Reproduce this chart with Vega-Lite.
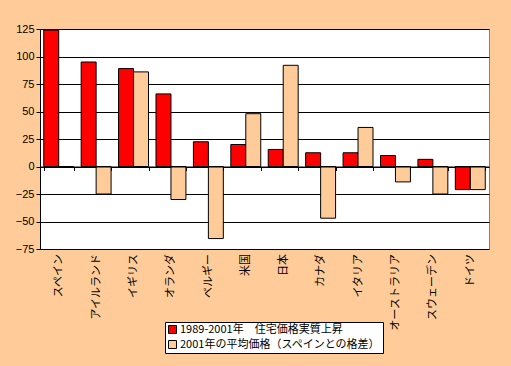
{
  "$schema": "https://vega.github.io/schema/vega-lite/v6.json",
  "width": 449,
  "height": 220,
  "autosize": "none",
  "padding": {"left": 40, "top": 29, "right": 22, "bottom": 117},
  "background": "#FFCC99",
  "config": {
    "view": {"fill": "white", "stroke": "#808080", "strokeWidth": 1},
    "font": "Liberation Sans"
  },
  "data": {
    "values": [
      {"country": "スペイン", "series": "1989-2001年　住宅価格実質上昇", "value": 124},
      {"country": "スペイン", "series": "2001年の平均価格（スペインとの格差）", "value": 0},
      {"country": "アイルランド", "series": "1989-2001年　住宅価格実質上昇", "value": 95},
      {"country": "アイルランド", "series": "2001年の平均価格（スペインとの格差）", "value": -25},
      {"country": "イギリス", "series": "1989-2001年　住宅価格実質上昇", "value": 89},
      {"country": "イギリス", "series": "2001年の平均価格（スペインとの格差）", "value": 86},
      {"country": "オランダ", "series": "1989-2001年　住宅価格実質上昇", "value": 66},
      {"country": "オランダ", "series": "2001年の平均価格（スペインとの格差）", "value": -30},
      {"country": "ベルギー", "series": "1989-2001年　住宅価格実質上昇", "value": 22.5},
      {"country": "ベルギー", "series": "2001年の平均価格（スペインとの格差）", "value": -65.5},
      {"country": "米国", "series": "1989-2001年　住宅価格実質上昇", "value": 20},
      {"country": "米国", "series": "2001年の平均価格（スペインとの格差）", "value": 48},
      {"country": "日本", "series": "1989-2001年　住宅価格実質上昇", "value": 15.5},
      {"country": "日本", "series": "2001年の平均価格（スペインとの格差）", "value": 92},
      {"country": "カナダ", "series": "1989-2001年　住宅価格実質上昇", "value": 12.5},
      {"country": "カナダ", "series": "2001年の平均価格（スペインとの格差）", "value": -47},
      {"country": "イタリア", "series": "1989-2001年　住宅価格実質上昇", "value": 12.5},
      {"country": "イタリア", "series": "2001年の平均価格（スペインとの格差）", "value": 35.5},
      {"country": "オーストラリア", "series": "1989-2001年　住宅価格実質上昇", "value": 10},
      {"country": "オーストラリア", "series": "2001年の平均価格（スペインとの格差）", "value": -14},
      {"country": "スウェーデン", "series": "1989-2001年　住宅価格実質上昇", "value": 6.5},
      {"country": "スウェーデン", "series": "2001年の平均価格（スペインとの格差）", "value": -25},
      {"country": "ドイツ", "series": "1989-2001年　住宅価格実質上昇", "value": -21},
      {"country": "ドイツ", "series": "2001年の平均価格（スペインとの格差）", "value": -21}
    ]
  },
  "mark": {"type": "bar", "stroke": "black", "strokeWidth": 1},
  "encoding": {
    "x": {
      "field": "country",
      "type": "nominal",
      "sort": null,
      "title": null,
      "scale": {"paddingInner": 0.2, "paddingOuter": 0.1},
      "axis": {
        "offset": -82.5,
        "domainColor": "black",
        "tickColor": "black",
        "tickSize": 4,
        "tickBand": "extent",
        "labelAngle": -90,
        "labelPadding": 83,
        "labelFont": "Noto Sans CJK JP",
        "labelFontSize": 11,
        "labelColor": "black",
        "grid": false,
        "zindex": 1
      }
    },
    "xOffset": {
      "field": "series",
      "type": "nominal",
      "sort": null,
      "scale": {"paddingInner": 0, "paddingOuter": 0}
    },
    "y": {
      "field": "value",
      "type": "quantitative",
      "title": null,
      "scale": {"domain": [-75, 125], "nice": false},
      "axis": {
        "values": [-75, -50, -25, 0, 25, 50, 75, 100, 125],
        "grid": true,
        "gridColor": "black",
        "gridOpacity": 1,
        "domainColor": "black",
        "tickColor": "black",
        "tickSize": 4,
        "labelPadding": 2,
        "labelFontSize": 11,
        "labelColor": "black"
      }
    },
    "color": {
      "field": "series",
      "type": "nominal",
      "sort": null,
      "scale": {"range": ["#FF0000", "#FFCC99"]},
      "legend": {
        "title": null,
        "orient": "none",
        "legendX": 125,
        "legendY": 293,
        "fillColor": "white",
        "strokeColor": "black",
        "padding": 2,
        "rowPadding": 2,
        "symbolType": "square",
        "symbolSize": 64,
        "symbolStrokeColor": "black",
        "symbolStrokeWidth": 1,
        "symbolOffset": 0,
        "labelFont": "Noto Sans CJK JP",
        "labelFontSize": 11,
        "labelColor": "black",
        "labelOffset": 2,
        "labelLimit": 300
      }
    }
  }
}
